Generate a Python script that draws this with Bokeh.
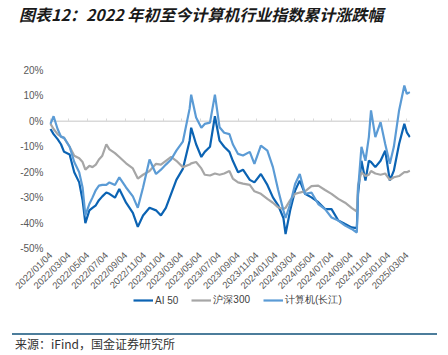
import math
import pandas as pd
from bokeh.plotting import figure
from bokeh.layouts import column
from bokeh.models import (FixedTicker, PrintfTickFormatter, DatetimeTickFormatter, DatetimeAxis,
                          Legend, LegendItem, Range1d, Div)
from bokeh.embed import file_html
from bokeh.resources import INLINE

title_text = "图表12：2022 年初至今计算机行业指数累计涨跌幅"
source_text = "来源：iFind，国金证券研究所"
series_names = ["AI 50", "沪深300", "计算机(长江)"]

dates = ["2022-01-04", "2022-01-14", "2022-01-27", "2022-02-07", "2022-02-17", "2022-03-07",
         "2022-03-22", "2022-04-07", "2022-04-18", "2022-04-27", "2022-05-10", "2022-05-20",
         "2022-05-31", "2022-06-10", "2022-06-21", "2022-07-04", "2022-07-14", "2022-08-01",
         "2022-08-15", "2022-09-06", "2022-09-28", "2022-10-14", "2022-10-31", "2022-11-21",
         "2022-12-12", "2022-12-28", "2023-01-13", "2023-01-30", "2023-02-16", "2023-03-09",
         "2023-03-31", "2023-04-05", "2023-04-21", "2023-05-08", "2023-05-19", "2023-06-05",
         "2023-06-21", "2023-07-06", "2023-07-21", "2023-08-07", "2023-08-18", "2023-09-04",
         "2023-09-20", "2023-10-12", "2023-10-27", "2023-11-17", "2023-12-08", "2023-12-26",
         "2024-01-12", "2024-01-29", "2024-02-05", "2024-02-20", "2024-03-07", "2024-03-22",
         "2024-04-08", "2024-04-29", "2024-05-21", "2024-06-12", "2024-07-03", "2024-07-25",
         "2024-08-16", "2024-09-06", "2024-09-23", "2024-09-27", "2024-10-08", "2024-10-21",
         "2024-11-01", "2024-11-08", "2024-11-22", "2024-12-09", "2024-12-24", "2025-01-08",
         "2025-01-21", "2025-02-07", "2025-02-24", "2025-03-04", "2025-03-14"]

ai50 = [-3, -5, -7, -9, -12, -13,
        -20, -24, -31, -40, -35, -34,
        -33, -31, -29.5, -28, -28.5, -30,
        -26.6, -32, -36, -41.5, -37, -34,
        -35, -37, -34, -28.5, -23, -18.7,
        -7.6, -2.5, -9, -14, -12, -10,
        2, -7.6, -10, -12, -15.5, -20,
        -19, -23, -24, -20.7, -25, -29.9,
        -33, -38, -44.3, -35, -27.2, -23.3,
        -28.5, -29.9, -31.8, -34.5, -34.5, -39,
        -40.4, -41.7, -42, -28.5, -15.5, -23.3,
        -15.5, -16, -18, -15.5, -11.5, -23.3,
        -19.4, -8.9, -1, -4.3, -6.2]

hs300 = [-1, -3, -5, -6, -6.5, -10,
         -13.5, -14.5, -16, -19, -17.5, -18,
         -17, -15, -13.5, -9, -11, -12.5,
         -14, -16.5, -18.5, -22.5, -21, -19.5,
         -16.7, -17, -15.5, -14, -15.5, -18,
         -17, -16.5, -16, -18.5, -21, -21.3,
         -20.5, -21, -20.5, -19.5, -22.5, -24,
         -24.5, -25, -27.5, -28.5, -30.5, -32,
         -33.8, -34.5, -34, -31, -28.5, -28,
         -27.5, -25.5, -25.3, -27, -28.5, -30.5,
         -32, -34, -35.5, -25, -20, -21.5,
         -21, -19.5, -20.5, -21, -20.5, -23,
         -22, -21.5, -20, -20, -19.4]

jsj = [-1, 2, -3, -6, -6.5, -10,
       -16, -20, -26, -37, -32.5, -30,
       -27, -25.3, -25, -25, -24, -25,
       -22, -26, -29.5, -34, -26, -15,
       -20.7, -19, -17, -15, -11.5, -8,
       5, 10.5, 1.5, -2.5, -1, -0.5,
       10.5, -2.3, -4.5, -5, -9, -12.8,
       -13.4, -12, -16.7, -9.5, -11.5, -18,
       -27, -35, -38, -32.5, -24.6, -20.7,
       -28.5, -28, -32.5, -34.5, -37.8, -39,
       -41, -42.3, -43.7, -27, -10, -15.5,
       -6.2, 4.3, -6.2, -0.3, -8.9, -16.7,
       -10, 4.3, 14.1, 10.8, 11.5]

tick_dates = ["2022-01-04", "2022-03-04", "2022-05-04", "2022-07-04", "2022-09-04", "2022-11-04",
              "2023-01-04", "2023-03-04", "2023-05-04", "2023-07-04", "2023-09-04", "2023-11-04",
              "2024-01-04", "2024-03-04", "2024-05-04", "2024-07-04", "2024-09-04", "2024-11-04",
              "2025-01-04", "2025-03-04"]
y_ticks = [-50, -40, -30, -20, -10, 0, 10, 20]

colors = ["#0B63B3", "#A6A6A6", "#5B9BD5"]

x = pd.to_datetime(dates)
tick_ms = [pd.Timestamp(d).value / 1e6 for d in tick_dates]

# geometry: data area 360 px wide starting at the first date; extra room on the left
# (for the value labels), above, and below (for the date labels and the legend) lies inside the frame.
X_END = pd.Timestamp("2025-03-16")
X_FIRST = pd.Timestamp(dates[0])
PX_PER_DAY = 360 / (X_END - X_FIRST).days
LEFT_PAD = 43
X_START = X_FIRST - pd.Timedelta(days=LEFT_PAD / PX_PER_DAY)
PX_PER_UNIT = 178 / 70.0
TOP_PAD = 8
FRAME_H = 246 + TOP_PAD
y_top = y_ticks[-1] + TOP_PAD / PX_PER_UNIT
y_bottom = y_top - FRAME_H / PX_PER_UNIT

title_div = Div(
    text=(f'<div style="padding-left:14px; white-space:nowrap; '
          f'font-family:\'Noto Sans CJK SC\'; font-weight:bold; font-style:italic; '
          f'font-size:16px; line-height:19px; color:#1a1a1a;">{title_text}</div>'),
    width=432, height=26)

p = figure(frame_width=360 + LEFT_PAD, frame_height=FRAME_H, output_backend="svg",
           toolbar_location=None, x_axis_type="datetime",
           x_range=Range1d(X_START, X_END), y_range=Range1d(y_bottom, y_top),
           min_border_left=7, min_border_right=22, min_border_top=34 - TOP_PAD, min_border_bottom=0)
p.outline_line_color = None
p.xgrid.visible = False
p.ygrid.visible = False

# y axis pinned at the first date
ya = p.yaxis[0]
ya.fixed_location = X_FIRST.value / 1e6
ya.ticker = FixedTicker(ticks=y_ticks)
ya.formatter = PrintfTickFormatter(format="%d%%")
ya.axis_line_color = None
ya.major_tick_line_color = None
ya.major_tick_out = 0
ya.major_tick_in = 0
ya.minor_tick_line_color = None
ya.major_label_text_font = "Liberation Sans"
ya.major_label_text_font_size = "10px"
ya.major_label_text_color = "#595959"
ya.major_label_standoff = 7

# bottom date labels, drawn just under the -50% level
fmt = "%Y/%m/%d"
dtf = DatetimeTickFormatter(days=fmt, months=fmt, years=fmt, hours=fmt, minutes=fmt,
                            seconds=fmt, milliseconds=fmt, minsec=fmt, hourmin=fmt)
xa = p.xaxis[0]
xa.fixed_location = y_ticks[0]
xa.ticker = FixedTicker(ticks=tick_ms)
xa.formatter = dtf
xa.axis_line_color = None
xa.major_tick_line_color = None
xa.major_tick_out = 0
xa.major_tick_in = 0
xa.minor_tick_line_color = None
xa.major_label_orientation = math.pi / 4
xa.major_label_text_font = "Liberation Sans"
xa.major_label_text_font_size = "9.5px"
xa.major_label_text_color = "#595959"
xa.major_label_standoff = 5

# zero line (from first to last date) with small tick marks
p.segment(x0=[x[0]], x1=[x[-1]], y0=[0], y1=[0], line_color="#D9D9D9", line_width=1.5)
zax = DatetimeAxis(fixed_location=0, ticker=FixedTicker(ticks=tick_ms), formatter=dtf)
zax.axis_line_color = None
zax.major_tick_line_color = "#D9D9D9"
zax.major_tick_in = 3
zax.major_tick_out = 0
zax.minor_tick_line_color = None
zax.major_label_text_color = None
zax.major_label_text_font_size = "1px"
zax.major_label_standoff = 0
zax.level = "underlay"
p.add_layout(zax, "below")

renderers = []
for vals, col in zip([ai50, hs300, jsj], colors):
    r = p.line(x, vals, line_color=col, line_width=2.2)
    renderers.append(r)

legend = Legend(items=[LegendItem(label=n, renderers=[r]) for n, r in zip(series_names, renderers)],
                orientation="horizontal", location=(LEFT_PAD + 83, 9),
                glyph_width=20, glyph_height=12, label_standoff=2, spacing=13,
                padding=2, margin=0, border_line_color=None, background_fill_alpha=0,
                label_text_font="Liberation Sans", label_text_font_size="10px",
                label_text_color="#404040")
p.add_layout(legend, "center")

source_div = Div(
    text=(f'<div style="margin-left:7px; width:425px; margin-top:12px; '
          f'border-top:2px solid #4C7D9B; padding-top:2px; padding-left:3px; white-space:nowrap; '
          f'font-family:\'Noto Sans CJK SC\'; font-size:12px; line-height:14px; color:#333333;">'
          f'{source_text}</div>'),
    width=432, height=30)

layout = column(title_div, p, source_div, spacing=0)
open("out.html", "w").write(file_html(layout, INLINE))
